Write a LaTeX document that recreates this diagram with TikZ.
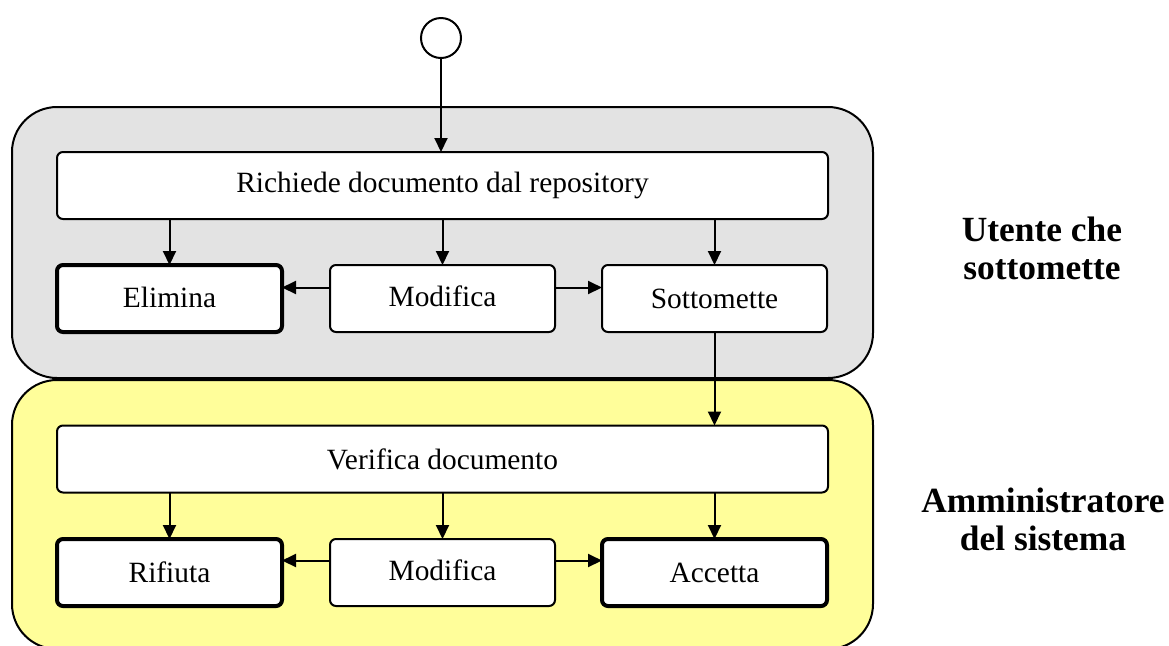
\documentclass[tikz,border=0pt]{standalone}
\usepackage{fontspec}
\setmainfont{Liberation Serif}
\usetikzlibrary{arrows.meta}

\definecolor{lanegray}{HTML}{E3E3E3}
\definecolor{laneyellow}{HTML}{FFFE9A}

\tikzset{
  lane/.style={draw=black, line width=1pt, rounded corners=22.5pt},
  actbox/.style={draw=black, fill=white, line width=1pt, rounded corners=3pt,
    inner sep=0pt, outer sep=0pt, minimum height=33.5pt,
    font=\fontsize{14.7pt}{17pt}\selectfont},
  smallbox/.style={actbox, minimum width=112.5pt},
  widebox/.style={actbox, minimum width=385.5pt},
  finalbox/.style={smallbox, line width=2pt},
  startnode/.style={circle, draw=black, fill=white, line width=1pt,
    minimum size=20pt, inner sep=0pt, outer sep=0pt},
  flow/.style={draw=black, line width=1pt, -{Triangle[length=7pt,width=6.5pt]}},
  lanelabel/.style={align=center, font=\bfseries\fontsize{17.7pt}{19pt}\selectfont}
}

\begin{document}
\begin{tikzpicture}[x=0.5pt,y=-0.5pt]
  \path[use as bounding box, clip] (0,0) rectangle (1169,645);

  % swimlanes
  \draw[lane, fill=lanegray] (12,107) rectangle (873,378);
  \draw[lane, fill=laneyellow] (12,380) rectangle (873,649);

  % lane titles
  \node[lanelabel] (ulab) at (1042,248.5) {Utente che\\sottomette};
  \node[lanelabel] (alab) at (1043,519) {Amministratore\\del sistema};

  % initial state
  \node[startnode] (start) at (441,38) {};

  % user lane
  \node[widebox]  (req)  at (442.5,185.5) {Richiede documento dal repository};
  \node[finalbox] (elim) at (169.5,298.5) {\raisebox{1pt}{Elimina}};
  \node[smallbox] (mod)  at (442.5,298.5) {\raisebox{2pt}{Modifica}};
  \node[smallbox] (sott) at (714.5,298.5) {Sottomette};

  % administrator lane
  \node[widebox]  (ver)  at (442.5,459) {Verifica documento};
  \node[finalbox] (rif)  at (169.5,572.5) {Rifiuta};
  \node[smallbox] (mod2) at (442.5,572.5) {\raisebox{2.5pt}{Modifica}};
  \node[finalbox] (acc)  at (714.5,572.5) {Accetta};

  % flows
  \draw[flow] (start.south) -- (req.north -| start.south);
  \draw[flow] (req.south -| elim.north) -- (elim.north);
  \draw[flow] (req.south -| mod.north) -- (mod.north);
  \draw[flow] (req.south -| sott.north) -- (sott.north);
  \draw[flow] ([yshift=5.5pt]mod.west) -- ([yshift=5.5pt]elim.east);
  \draw[flow] ([yshift=5.5pt]mod.east) -- ([yshift=5.5pt]sott.west);
  \draw[flow] (sott.south) -- (ver.north -| sott.south);

  \draw[flow] (ver.south -| rif.north) -- (rif.north);
  \draw[flow] (ver.south -| mod2.north) -- (mod2.north);
  \draw[flow] (ver.south -| acc.north) -- (acc.north);
  \draw[flow] ([yshift=6pt]mod2.west) -- ([yshift=6pt]rif.east);
  \draw[flow] ([yshift=6pt]mod2.east) -- ([yshift=6pt]acc.west);
\end{tikzpicture}
\end{document}
